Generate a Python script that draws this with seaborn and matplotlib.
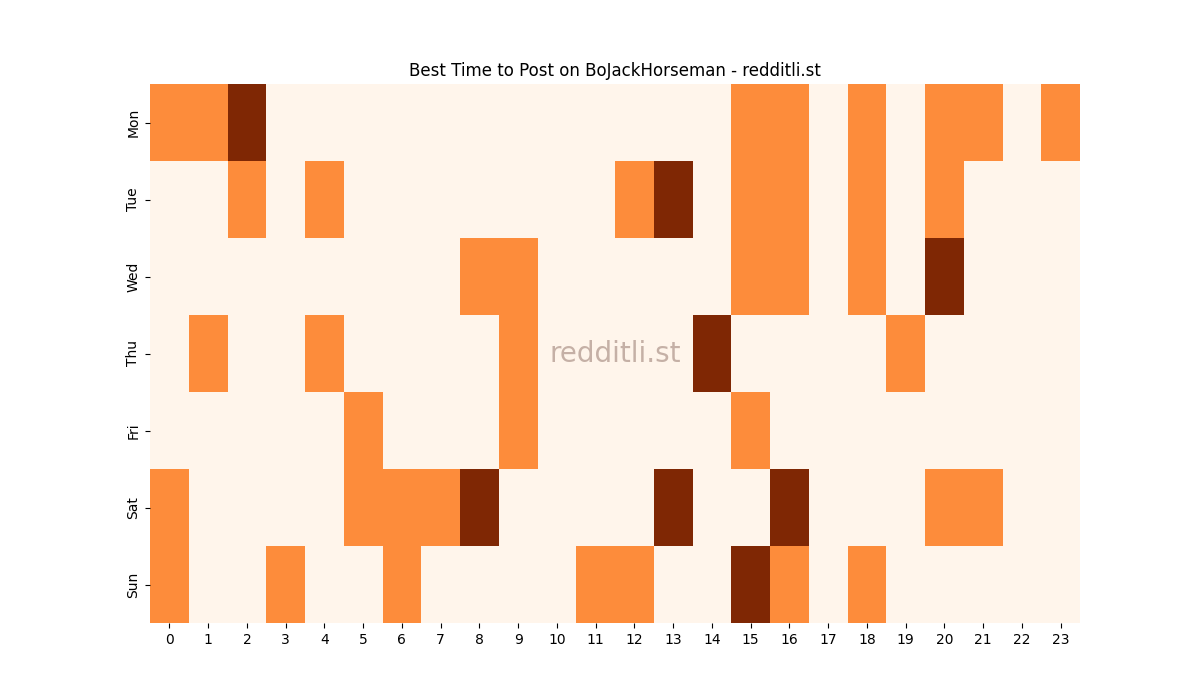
import matplotlib
matplotlib.use("Agg")
import matplotlib.pyplot as plt
import seaborn as sns
import numpy as np
import pandas as pd

days = ["Mon", "Tue", "Wed", "Thu", "Fri", "Sat", "Sun"]
hours = list(range(24))
mon = [1,1,2,0,0,0,0,0,0,0,0,0,0,0,0,1,1,0,1,0,1,1,0,1]
tue = [0,0,1,0,1,0,0,0,0,0,0,0,1,2,0,1,1,0,1,0,1,0,0,0]
wed = [0,0,0,0,0,0,0,0,1,1,0,0,0,0,0,1,1,0,1,0,2,0,0,0]
thu = [0,1,0,0,1,0,0,0,0,1,0,0,0,0,2,0,0,0,0,1,0,0,0,0]
fri = [0,0,0,0,0,1,0,0,0,1,0,0,0,0,0,1,0,0,0,0,0,0,0,0]
sat = [1,0,0,0,0,1,1,1,2,0,0,0,0,2,0,0,2,0,0,0,1,1,0,0]
sun = [1,0,0,1,0,0,1,0,0,0,0,1,1,0,0,2,1,0,1,0,0,0,0,0]

df = pd.DataFrame([mon, tue, wed, thu, fri, sat, sun], index=days, columns=hours)

fig, ax = plt.subplots(figsize=(12, 7), dpi=100)
sns.heatmap(df, cmap="Oranges", cbar=False, ax=ax)
ax.set_title("Best Time to Post on BoJackHorseman - redditli.st")
ax.text(0.5, 0.5, "redditli.st", transform=ax.transAxes, ha="center", va="center",
        fontsize=20, color="#8c6d62", alpha=0.5)
fig.savefig("out.png")
